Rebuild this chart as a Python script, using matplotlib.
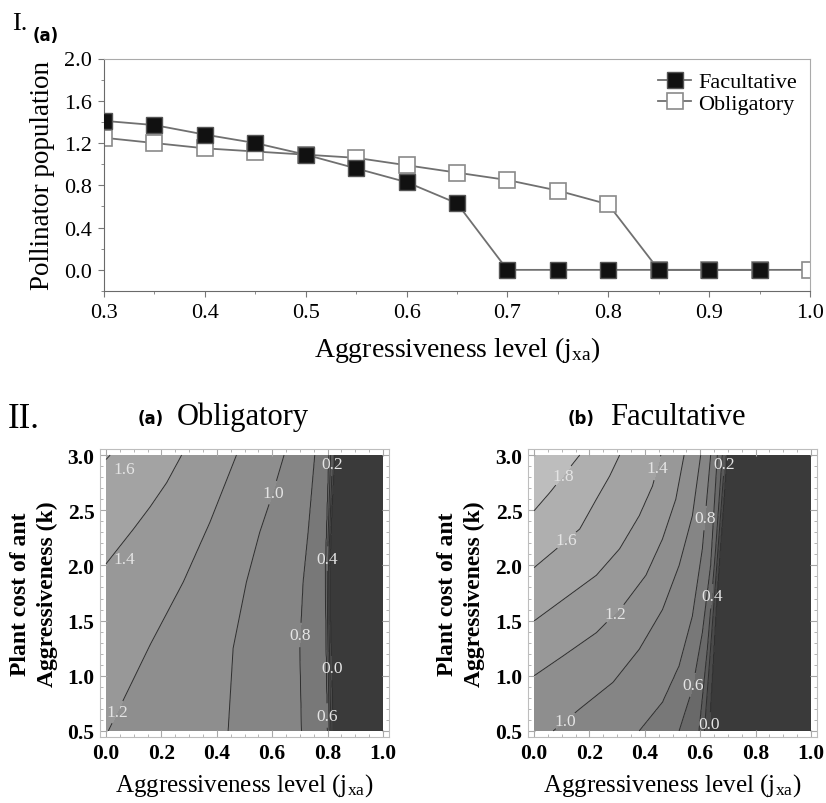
import matplotlib
matplotlib.use('Agg')
import matplotlib.pyplot as plt
import numpy as np
from matplotlib.ticker import MultipleLocator

plt.rcParams['font.family'] = 'serif'
plt.rcParams['font.serif'] = ['Liberation Serif', 'DejaVu Serif']
plt.rcParams['mathtext.fontset'] = 'custom'
plt.rcParams['mathtext.rm'] = 'Liberation Serif'
plt.rcParams['mathtext.it'] = 'Liberation Serif:italic'
plt.rcParams['mathtext.bf'] = 'Liberation Serif:bold'

# ── Data: panel I (pollinator population vs aggressiveness) ─────────────
jxa_fac = [0.30, 0.35, 0.40, 0.45, 0.50, 0.55, 0.60, 0.65, 0.70, 0.75, 0.80, 0.85, 0.90, 0.95]
pop_fac = [1.41, 1.37, 1.28, 1.20, 1.09, 0.96, 0.83, 0.63, 0.0, 0.0, 0.0, 0.0, 0.0, 0.0]
jxa_obl = [0.30, 0.35, 0.40, 0.45, 0.50, 0.55, 0.60, 0.65, 0.70, 0.75, 0.80, 0.85, 0.90, 0.95, 1.00]
pop_obl = [1.25, 1.20, 1.15, 1.12, 1.09, 1.06, 0.99, 0.92, 0.85, 0.75, 0.62, 0.0, 0.0, 0.0, 0.0]

# ── Data: panel II contour lines ────────────────────────────────────────
# each contour level: k values and the jxa position of the line at those k
obl_levels = [1.6, 1.4, 1.2, 1.0, 0.8, 0.6, 0.4, 0.2, 0.0]
obl_line_k = [
    [2.96, 3.0],
    [2.015, 2.33, 2.53, 2.75, 3.0],
    [0.5, 0.95, 1.28, 1.85, 2.39, 3.0],
    [0.5, 1.25, 1.85, 2.30, 2.66, 3.0],
    [0.5, 1.25, 1.85, 2.30, 3.0],
    [0.5, 1.5, 2.0, 3.0],
    [0.5, 1.5, 2.0, 3.0],
    [0.5, 1.5, 2.0, 3.0],
    [0.5, 1.0, 1.5, 2.0, 2.5, 3.0],
]
obl_line_x = [
    [0.0, 0.015],
    [0.0, 0.099, 0.159, 0.219, 0.273],
    [0.008, 0.095, 0.159, 0.279, 0.375, 0.471],
    [0.441, 0.459, 0.507, 0.555, 0.603, 0.643],
    [0.706, 0.700, 0.712, 0.730, 0.754],
    [0.800, 0.794, 0.793, 0.805],
    [0.806, 0.800, 0.799, 0.811],
    [0.812, 0.805, 0.804, 0.818],
    [0.820, 0.815, 0.810, 0.808, 0.815, 0.826],
]
obl_edge_k = [0.5, 2.015, 2.96, 3.0]
obl_edge_z = [1.205, 1.4, 1.6, 1.61]

fac_levels = [1.8, 1.6, 1.4, 1.2, 1.0, 0.8, 0.6, 0.4, 0.2, 0.0]
fac_line_k = [
    [2.495, 2.66, 2.81, 3.0],
    [1.98, 2.15, 2.33, 2.60, 2.81, 3.0],
    [1.497, 1.69, 1.91, 2.15, 2.45, 2.72, 3.0],
    [1.0, 1.18, 1.39, 1.63, 1.91, 2.24, 2.60, 3.0],
    [0.5, 0.70, 0.94, 1.24, 1.60, 2.0, 2.45, 3.0],
    [0.5, 0.76, 1.09, 1.54, 2.15, 3.0],
    [0.5, 0.88, 1.39, 2.0, 3.0],
    [0.5, 1.24, 2.15, 3.0],
    [0.5, 1.5, 3.0],
    [0.5, 1.75, 3.0],
]
fac_line_x = [
    [0.0, 0.057, 0.105, 0.165],
    [0.0, 0.081, 0.165, 0.225, 0.273, 0.309],
    [0.0, 0.105, 0.225, 0.309, 0.380, 0.428, 0.458],
    [0.0, 0.105, 0.225, 0.320, 0.404, 0.464, 0.512, 0.542],
    [0.069, 0.165, 0.285, 0.380, 0.464, 0.524, 0.572, 0.602],
    [0.380, 0.464, 0.524, 0.572, 0.608, 0.638],
    [0.524, 0.572, 0.608, 0.638, 0.662],
    [0.596, 0.626, 0.656, 0.680],
    [0.615, 0.645, 0.690],
    [0.632, 0.661, 0.697],
]
fac_edge_k = [0.5, 1.0, 1.497, 1.98, 2.495, 3.0]
fac_edge_z = [1.04, 1.2, 1.4, 1.6, 1.8, 1.92]

band_bounds = [-0.2, 0.0, 0.2, 0.4, 0.6, 0.8, 1.0, 1.2, 1.4, 1.6, 1.8, 2.0]
band_colors = ['#3a3a3a', '#4a4a4a', '#5a5a5a', '#696969', '#787878', '#858585',
               '#8e8e8e', '#989898', '#a3a3a3', '#afafaf', '#bdbdbd']
line_levels = [0.0, 0.2, 0.4, 0.6, 0.8, 1.0, 1.2, 1.4, 1.6, 1.8]


def build_field(levels, line_k, line_x, edge_k, edge_z, floor=-0.1):
    """Grid of values whose contours pass through the read-off line positions."""
    xs = np.linspace(0, 1, 501)
    ks = np.linspace(0.5, 3.0, 251)
    Z = np.empty((ks.size, xs.size))
    for i, k in enumerate(ks):
        px = [0.0]
        pz = [np.interp(k, edge_k, edge_z)]
        for lev, lk, lx in zip(levels, line_k, line_x):
            if lk[0] <= k <= lk[-1]:
                x = float(np.interp(k, lk, lx))
                if x > px[-1] + 1e-4:
                    px.append(x)
                    pz.append(lev)
        px.append(1.0)
        pz.append(floor)
        Z[i] = np.interp(xs, px, pz)
    return xs, ks, Z


W, H = 826, 804
fig = plt.figure(figsize=(W / 100, H / 100), dpi=100)

# ── Panel I ────────────────────────────────────────────────────────────
ax = fig.add_axes([104 / W, 1 - 292 / H, 706 / W, 232.5 / H])
l_obl, = ax.plot(jxa_obl, pop_obl, color='#707070', lw=1.3, marker='s', ms=11.5,
                 mfc='white', mec='#8a8a8a', mew=1.2, zorder=2)
l_fac, = ax.plot(jxa_fac, pop_fac, color='#707070', lw=1.3, marker='s', ms=11.5,
                 mfc='#111111', mec='#555555', mew=1.0, zorder=3)
ax.set_xlim(0.3, 1.0)
ax.set_ylim(-0.2, 2.0)
ax.xaxis.set_major_locator(MultipleLocator(0.1))
ax.xaxis.set_minor_locator(MultipleLocator(0.05))
ax.yaxis.set_major_locator(MultipleLocator(0.4))
ax.yaxis.set_minor_locator(MultipleLocator(0.2))
ax.tick_params(which='both', direction='out', color='#777777', labelsize=16)
ax.tick_params(which='major', length=4, pad=5)
ax.tick_params(which='minor', length=2.5)
for side, s in ax.spines.items():
    s.set_color('#6a6a6a' if side in ('left', 'bottom') else '#aaaaaa')
ax.set_xlabel('Aggressiveness level (j$_{\\mathrm{xa}}$)', fontsize=20, labelpad=8)
ax.set_ylabel('Pollinator population', fontsize=19.5, labelpad=6)
ax.legend([l_fac, l_obl], ['Facultative', 'Obligatory'], loc='upper right',
          bbox_to_anchor=(1.0, 1.0), frameon=False, fontsize=16, handlelength=1.5,
          handletextpad=0.3, labelspacing=0.05, borderaxespad=0.2)

fig.text(12 / W, 1 - 30 / H, 'I.', fontsize=19, va='baseline')
fig.text(33 / W, 1 - 41 / H, '(a)', fontsize=12, fontweight='bold',
         family='DejaVu Sans', va='baseline')

# ── Panel II ───────────────────────────────────────────────────────────
panels = [
    (100, 'Obligatory', '(a)', 138, 177,
     (obl_levels, obl_line_k, obl_line_x, obl_edge_k, obl_edge_z),
     {1.2: (0.05, 0.66), 1.0: (0.615, 2.65),
      0.8: (0.693, 1.37), 0.2: (0.826, 2.92), 0.4: (0.82, 2.06),
      0.0: (0.83, 1.07), 0.6: (0.83, 0.64)},
     [(1.6, (0.065, 2.87)), (1.4, (0.065, 2.06))], 34),
    (528, 'Facultative', '(b)', 568, 610,
     (fac_levels, fac_line_k, fac_line_x, fac_edge_k, fac_edge_z),
     {1.8: (0.099, 2.83), 1.6: (0.111, 2.25), 1.4: (0.422, 2.90),
      1.2: (0.29, 1.57), 1.0: (0.117, 0.58), 0.8: (0.614, 2.43),
      0.6: (0.56, 0.92), 0.4: (0.644, 1.72), 0.2: (0.697, 2.92),
      0.0: (0.661, 0.56)},
     [], 461),
]

for left, title, tag, tag_x, title_x, field, lab_pos, free_lab, ylab_x in panels:
    ax = fig.add_axes([left / W, 1 - 738 / H, 289 / W, 288 / H])
    xs, ks, Z = build_field(*field)
    ax.contourf(xs, ks, Z, levels=band_bounds, colors=band_colors)
    for lev in line_levels:
        if Z.min() >= lev or Z.max() <= lev:
            continue
        cs = ax.contour(xs, ks, Z, levels=[lev], colors='#2e2e2e', linewidths=0.7)
        if lev in lab_pos:
            ax.clabel(cs, manual=[lab_pos[lev]], inline=True, inline_spacing=2,
                      fmt='%.1f', fontsize=12.5, colors='#e4e4e4')
            for t in cs.labelTexts:
                t.set_rotation(0)
    for lev, pos in free_lab:
        ax.text(pos[0], pos[1], '%.1f' % lev, fontsize=12.5, color='#e4e4e4',
                ha='center', va='center')
    ax.set_xlim(-0.022, 1.022)
    ax.set_ylim(0.445, 3.055)
    ax.xaxis.set_major_locator(MultipleLocator(0.2))
    ax.xaxis.set_minor_locator(MultipleLocator(0.05))
    ax.yaxis.set_major_locator(MultipleLocator(0.5))
    ax.yaxis.set_minor_locator(MultipleLocator(0.1))
    ax.xaxis.set_major_formatter(plt.FormatStrFormatter('%.1f'))
    ax.yaxis.set_major_formatter(plt.FormatStrFormatter('%.1f'))
    ax.tick_params(which='both', direction='in', top=True, right=True,
                   color='#a8a8a8', labelsize=15.5)
    ax.tick_params(which='major', length=5, pad=4)
    ax.tick_params(which='minor', length=2.5)
    for lab in ax.get_xticklabels() + ax.get_yticklabels():
        lab.set_fontweight('bold')
    for s in ax.spines.values():
        s.set_color('#bdbdbd')
    ax.set_xlabel('Aggressiveness level (j$_{\\mathrm{xa}}$)', fontsize=18, labelpad=6)
    fig.text(ylab_x / W, 1 - 594 / H, 'Plant cost of ant\nAggressiveness (k)',
             fontsize=17, fontweight='bold', rotation=90, ha='center', va='center',
             linespacing=1.3)
    fig.text(tag_x / W, 1 - 424 / H, tag, fontsize=12, fontweight='bold',
             family='DejaVu Sans', va='baseline')
    fig.text(title_x / W, 1 - 425 / H, title, fontsize=22, va='baseline')

fig.text(8 / W, 1 - 428 / H, 'II.', fontsize=25, va='baseline')

plt.savefig('out.png', dpi=100)
